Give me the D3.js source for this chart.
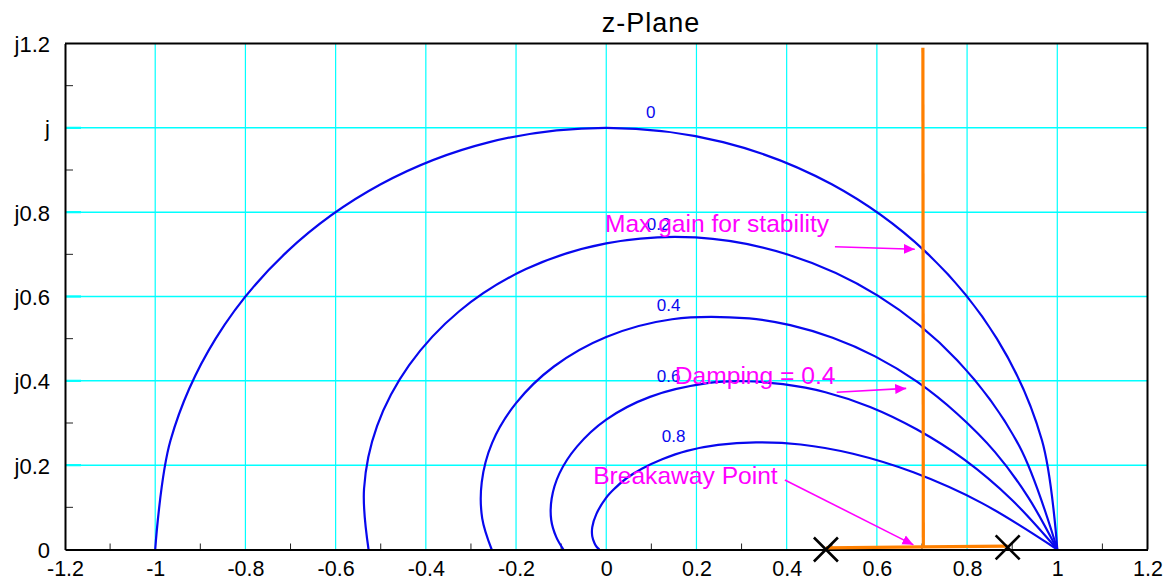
<!DOCTYPE html>
<html>
<head>
<meta charset="utf-8">
<script src="https://cdn.jsdelivr.net/npm/d3@7"></script>
<style>
  html, body { margin: 0; padding: 0; background: #fff; }
  svg { display: block; font-family: "Liberation Sans", Arial, Helvetica, sans-serif; }
</style>
</head>
<body>
<svg id="chart" width="1170" height="580"></svg>
<script>
// ---------- data ----------
const chartTitle = "z-Plane";
const xTickValues = [-1.2, -1, -0.8, -0.6, -0.4, -0.2, 0, 0.2, 0.4, 0.6, 0.8, 1, 1.2];
const xTickLabels = ["-1.2", "-1", "-0.8", "-0.6", "-0.4", "-0.2", "0", "0.2", "0.4", "0.6", "0.8", "1", "1.2"];
const yTickValues = [0, 0.2, 0.4, 0.6, 0.8, 1, 1.2];
const yTickLabels = ["0", "j0.2", "j0.4", "j0.6", "j0.8", "j", "j1.2"];
const xMinorTicks = [-1.1, -0.9, -0.7, -0.5, -0.3, -0.1, 0.1, 0.3, 0.5, 0.7, 0.9, 1.1];
const yMinorTicks = [0.1, 0.3, 0.5, 0.7, 0.9, 1.1];

const dampingLabels = ["0", "0.2", "0.4", "0.6", "0.8"];
const locusDamping0 = [[1,0],[0.966,0.259],[0.866,0.5],[0.707,0.707],[0.5,0.866],[0.259,0.966],[0,1],
  [-0.259,0.966],[-0.5,0.866],[-0.707,0.707],[-0.866,0.5],[-0.966,0.259],[-1,0]];
const locusDamping02 = [[1,0],[0.916,0.245],[0.778,0.449],[0.602,0.602],[0.404,0.699],[0.198,0.740],[0,0.726],
  [-0.178,0.665],[-0.326,0.565],[-0.437,0.437],[-0.508,0.293],[-0.537,0.144],[-0.527,0]];
const locusDamping04 = [[1,0],[0.936,0.123],[0.862,0.231],[0.778,0.322],[0.689,0.398],[0.596,0.458],[0.502,0.502],
  [0.408,0.532],[0.317,0.548],[0.146,0.546],[0,0.504],[-0.116,0.434],[-0.200,0.347],[-0.253,0.253],
  [-0.276,0.160],[-0.275,0.074],[-0.254,0]];
const locusDamping06 = [[1,0],[0.899,0.118],[0.794,0.213],[0.688,0.285],[0.585,0.338],[0.486,0.373],[0.392,0.392],
  [0.306,0.399],[0.228,0.395],[0.097,0.362],[0,0.308],[-0.065,0.244],[-0.104,0.180],[-0.121,0.121],
  [-0.122,0.070],[-0.111,0.030],[-0.095,0]];
const locusDamping08 = [[1,0],[0.833,0.110],[0.681,0.183],[0.547,0.227],[0.431,0.249],[0.332,0.254],[0.248,0.248],
  [0.179,0.234],[0.124,0.214],[0.080,0.192],[0.045,0.169],[0.019,0.145],[0,0.123],[-0.022,0.084],
  [-0.031,0.053],[-0.031,0.031],[-0.026,0.015],[-0.021,0.006],[-0.015,0]];

const openLoopPoles = [[0.487, 0], [0.890, 0.005]];
const rootLocusReal = [[0.487, 0.004], [0.703, 0.006], [0.890, 0.008]];
const rootLocusBranch = [[0.703, 0.006], [0.702, 1.19]];

const annotationTexts = ["Max gain for stability", "Damping = 0.4", "Breakaway Point"];

// ---------- layout / style ----------
const W = 1170, H = 580;
const plot = { left: 65, right: 1147.5, top: 43.5, bottom: 549.5 };
const blue = "#0808ee", cyan = "#00ffff", orange = "#ff8000", magenta = "#ff00ff";

const x = d3.scaleLinear().domain([-1.2, 1.2]).range([plot.left, plot.right]);
const y = d3.scaleLinear().domain([0, 1.2]).range([plot.bottom, plot.top]);

const svg = d3.select("#chart");

// gridlines
const grid = svg.append("g").attr("class", "grid");
grid.selectAll("line.vx").data(xTickValues.filter(v => v > -1.2 && v < 1.2)).join("line")
  .attr("x1", d => x(d)).attr("x2", d => x(d))
  .attr("y1", plot.top).attr("y2", plot.bottom)
  .attr("stroke", cyan).attr("stroke-width", 1.2);
grid.selectAll("line.hy").data(yTickValues.filter(v => v > 0 && v < 1.2)).join("line")
  .attr("x1", plot.left).attr("x2", plot.right)
  .attr("y1", d => y(d)).attr("y2", d => y(d))
  .attr("stroke", cyan).attr("stroke-width", 1.5);
// major y ticks drawn in cyan
grid.selectAll("line.ymaj").data(yTickValues.filter(v => v > 0 && v < 1.2)).join("line")
  .attr("x1", plot.left).attr("x2", plot.left + 16)
  .attr("y1", d => y(d)).attr("y2", d => y(d))
  .attr("stroke", cyan).attr("stroke-width", 2.2);

// minor ticks
svg.append("g").selectAll("line").data(xMinorTicks).join("line")
  .attr("x1", d => x(d)).attr("x2", d => x(d))
  .attr("y1", plot.bottom).attr("y2", plot.bottom - 6)
  .attr("stroke", "#222").attr("stroke-width", 1);
svg.append("g").selectAll("line").data(yMinorTicks).join("line")
  .attr("x1", plot.left).attr("x2", plot.left + 8)
  .attr("y1", d => y(d)).attr("y2", d => y(d))
  .attr("stroke", "#222").attr("stroke-width", 1);

// damping loci
const loci = [locusDamping0, locusDamping02, locusDamping04, locusDamping06, locusDamping08];
const line = d3.line().x(d => x(d[0])).y(d => y(d[1])).curve(d3.curveCatmullRom.alpha(0.5));
svg.append("g").selectAll("path").data(loci).join("path")
  .attr("d", line).attr("fill", "none").attr("stroke", blue).attr("stroke-width", 2.2);

// damping labels
const dampLabelPos = [[0.088, 1.023], [0.090, 0.758], [0.112, 0.566], [0.112, 0.398], [0.123, 0.254]];
svg.append("g").selectAll("text").data(dampingLabels).join("text")
  .attr("x", (d, i) => x(dampLabelPos[i][0])).attr("y", (d, i) => y(dampLabelPos[i][1]))
  .attr("font-size", 17).attr("fill", blue).text(d => d);

// axes
const xAxis = d3.axisBottom(x).tickValues(xTickValues)
  .tickFormat((d, i) => xTickLabels[i]).tickSize(0).tickSizeOuter(0).tickPadding(11);
const gx = svg.append("g").attr("transform", `translate(0,${plot.bottom})`).call(xAxis);
gx.select(".domain").attr("stroke", "#000").attr("stroke-width", 2);
gx.selectAll("text").attr("font-size", 21.5).attr("fill", "#000")
  .attr("font-family", "'Liberation Sans', Arial, sans-serif");

const yAxis = d3.axisLeft(y).tickValues(yTickValues)
  .tickFormat((d, i) => yTickLabels[i]).tickSize(0).tickSizeOuter(0).tickPadding(15);
const gy = svg.append("g").attr("transform", `translate(${plot.left},0)`).call(yAxis);
gy.select(".domain").attr("stroke", "#000").attr("stroke-width", 2);
gy.selectAll("text").attr("font-size", 22).attr("fill", "#000").attr("dy", "0.36em")
  .attr("font-family", "'Liberation Sans', Arial, sans-serif");

// frame (top, right)
svg.append("path")
  .attr("d", `M${plot.left},${plot.top}H${plot.right}V${plot.bottom}`)
  .attr("fill", "none").attr("stroke", "#000").attr("stroke-width", 2);

// root locus
const straight = d3.line().x(d => x(d[0])).y(d => y(d[1]));
svg.append("g").selectAll("path").data([rootLocusReal, rootLocusBranch]).join("path")
  .attr("d", straight).attr("fill", "none").attr("stroke", orange).attr("stroke-width", 3.2);

// poles
const xs = 12;
svg.append("g").selectAll("path").data(openLoopPoles).join("path")
  .attr("d", d => {
    const cx = x(d[0]), cy = y(d[1]);
    return `M${cx - xs},${cy - xs}L${cx + xs},${cy + xs}M${cx - xs},${cy + xs}L${cx + xs},${cy - xs}`;
  })
  .attr("stroke", "#000").attr("stroke-width", 2.6).attr("fill", "none");

// annotations
svg.append("defs").append("marker")
  .attr("id", "arrow").attr("viewBox", "0 -6 12 12")
  .attr("refX", 11).attr("refY", 0)
  .attr("markerWidth", 12).attr("markerHeight", 12)
  .attr("markerUnits", "userSpaceOnUse").attr("orient", "auto")
  .append("path").attr("d", "M0,-5L11,0L0,5Z").attr("fill", magenta);

const annTextPos = [[-0.003, 0.754], [0.152, 0.3925], [-0.029, 0.155]];
const annArrows = [
  [[0.507, 0.718], [0.684, 0.712]],
  [[0.511, 0.373], [0.665, 0.382]],
  [[0.396, 0.165], [0.681, 0.011]]
];
const ann = svg.append("g");
ann.selectAll("line").data(annArrows).join("line")
  .attr("x1", d => x(d[0][0])).attr("y1", d => y(d[0][1]))
  .attr("x2", d => x(d[1][0])).attr("y2", d => y(d[1][1]))
  .attr("stroke", magenta).attr("stroke-width", 1.6).attr("marker-end", "url(#arrow)");
ann.selectAll("text").data(annotationTexts).join("text")
  .attr("x", (d, i) => x(annTextPos[i][0])).attr("y", (d, i) => y(annTextPos[i][1]))
  .attr("font-size", 24.6).attr("fill", magenta).text(d => d);

// title
svg.append("text").attr("x", 651).attr("y", 31.7).attr("text-anchor", "middle")
  .attr("font-size", 27).attr("letter-spacing", "1px").attr("fill", "#000").text(chartTitle);
</script>
</body>
</html>
